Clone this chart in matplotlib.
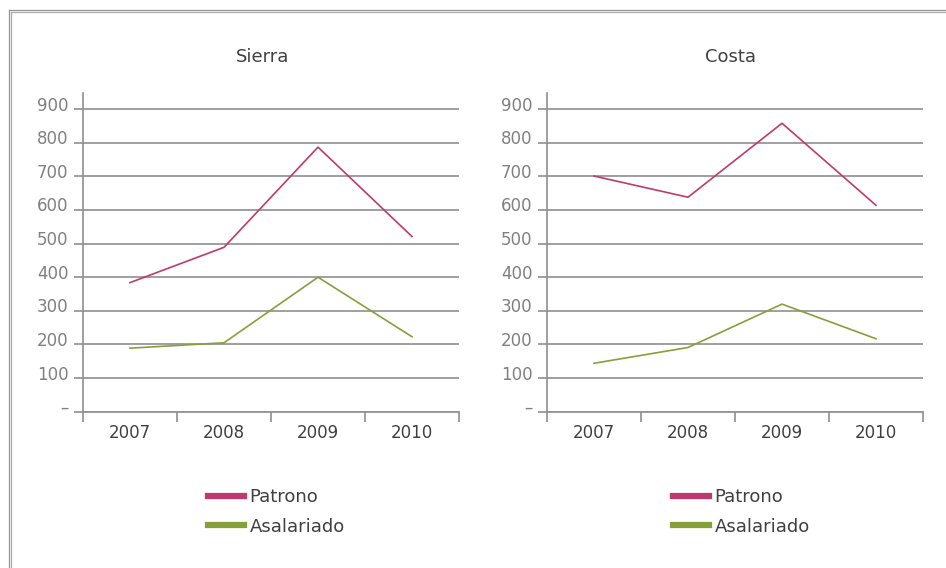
import matplotlib
matplotlib.use("Agg")
import matplotlib.pyplot as plt
import matplotlib.transforms as mtransforms
from matplotlib.lines import Line2D

years = ["2007", "2008", "2009", "2010"]

sierra_patrono = [384, 489, 787, 521]
sierra_asalariado = [189, 205, 400, 223]

costa_patrono = [701, 638, 858, 614]
costa_asalariado = [144, 191, 320, 217]

panel_titles = ["Sierra", "Costa"]
series_names = ["Patrono", "Asalariado"]

y_ticks = [0, 100, 200, 300, 400, 500, 600, 700, 800, 900]
y_labels = ["–", "100", "200", "300", "400", "500", "600", "700", "800", "900"]

PATRONO_COLOR = "#bf3a6c"
ASALARIADO_COLOR = "#86a03a"
GRID_COLOR = "#8f8f8f"
LABEL_GRAY = "#808080"
TEXT_DARK = "#404040"

W, H = 946, 568
plt.rcParams["font.family"] = ["DejaVu Sans"]
fig = plt.figure(figsize=(W / 100, H / 100), dpi=100)


def fx(px):
    return px / W


def fy(py):
    return 1 - py / H


# outer frame (only top and left edges show)
for off, col in [(8.5, "#959595"), (10.5, "#aaaaaa")]:
    fig.add_artist(Line2D([fx(off), 1.0], [fy(off + 1.5)] * 2, color=col, lw=0.9))
    fig.add_artist(Line2D([fx(off)] * 2, [fy(off + 1.5), 0.0], color=col, lw=0.9))

panels = [
    (83, 459, 263, 208, sierra_patrono, sierra_asalariado),
    (547, 923, 730, 673, costa_patrono, costa_asalariado),
]

x = list(range(len(years)))

for i, (left, right, title_x, leg_x, patrono, asalariado) in enumerate(panels):
    top_px, zero_px = 93, 411.7
    ax = fig.add_axes([fx(left), fy(zero_px), (right - left) / W, (zero_px - top_px) / H])
    ax.plot(x, patrono, color=PATRONO_COLOR, lw=1.2, label=series_names[0])
    ax.plot(x, asalariado, color=ASALARIADO_COLOR, lw=1.2, label=series_names[1])

    ax.set_xlim(-0.5, 3.5)
    ax.set_ylim(0, 948)

    for side in ["top", "right"]:
        ax.spines[side].set_visible(False)
    for side in ["left", "bottom"]:
        ax.spines[side].set_color(GRID_COLOR)
        ax.spines[side].set_linewidth(1.2)

    ax.set_yticks(y_ticks)
    ax.set_yticklabels(y_labels)
    ax.yaxis.grid(True, color=GRID_COLOR, lw=1.2)
    ax.set_axisbelow(True)
    ax.tick_params(axis="y", direction="out", length=6.5, width=1.2, color=GRID_COLOR,
                   labelcolor=LABEL_GRAY, labelsize=12, pad=4)
    offset = mtransforms.ScaledTranslation(0, 4 / 72, fig.dpi_scale_trans)
    for lbl in ax.get_yticklabels():
        lbl.set_transform(lbl.get_transform() + offset)

    ax.set_xticks(x)
    ax.set_xticklabels(years)
    ax.set_xticks([-0.5, 0.5, 1.5, 2.5, 3.5], minor=True)
    ax.tick_params(axis="x", which="major", length=0, labelcolor=TEXT_DARK, labelsize=12, pad=9)
    ax.tick_params(axis="x", which="minor", direction="out", length=7, width=1.2, color=GRID_COLOR)

    fig.text(fx(title_x), fy(57), panel_titles[i], ha="center", va="center",
             fontsize=13, color=TEXT_DARK)

    handles = [Line2D([], [], color=PATRONO_COLOR, lw=4.5),
               Line2D([], [], color=ASALARIADO_COLOR, lw=4.5)]
    ax.legend(handles, series_names, loc="center left",
              bbox_to_anchor=(fx(leg_x), fy(512)), bbox_transform=fig.transFigure,
              frameon=False, fontsize=13, handlelength=2.0, handletextpad=0.3,
              labelspacing=0.62, borderpad=0, borderaxespad=0, labelcolor=TEXT_DARK)

fig.savefig("out.png", dpi=100)
